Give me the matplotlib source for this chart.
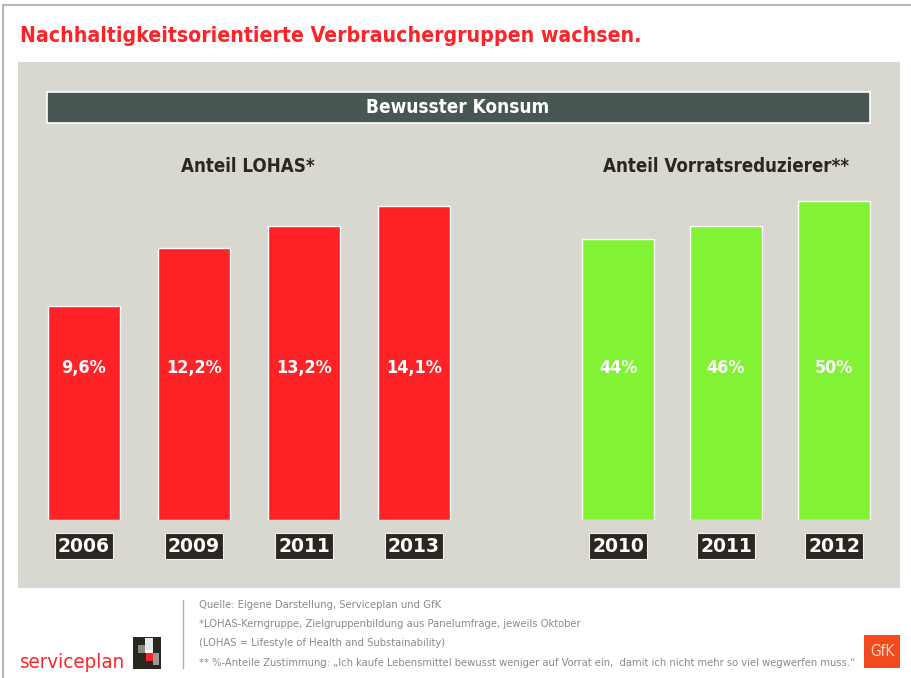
import matplotlib.pyplot as plt
from matplotlib.patches import Rectangle
import numpy as np

# data
lohas_years = ["2006", "2009", "2011", "2013"]
lohas_values = [9.6, 12.2, 13.2, 14.1]
lohas_labels = ["9,6%", "12,2%", "13,2%", "14,1%"]

vorrat_years = ["2010", "2011", "2012"]
vorrat_values = [44, 46, 50]
vorrat_labels = ["44%", "46%", "50%"]

title = "Nachhaltigkeitsorientierte Verbrauchergruppen wachsen."
header = "Bewusster Konsum"
sub_left = "Anteil LOHAS*"
sub_right = "Anteil Vorratsreduzierer**"
footnotes = [
    "Quelle: Eigene Darstellung, Serviceplan und GfK",
    "*LOHAS-Kerngruppe, Zielgruppenbildung aus Panelumfrage, jeweils Oktober",
    "(LOHAS = Lifestyle of Health and Substainability)",
    "** %-Anteile Zustimmung: \u201eIch kaufe Lebensmittel bewusst weniger auf Vorrat ein,  damit ich nicht mehr so viel wegwerfen muss.\u201c",
]

RED = "#FF2328"
GREEN = "#82F235"
PANEL = "#D8D8D0"
HEADER = "#485753"
DARK = "#2A2620"
FONT = dict(family="DejaVu Sans", fontstretch="condensed")

W, H = 912, 678
fig = plt.figure(figsize=(W / 100, H / 100), dpi=100)
fig.patch.set_facecolor("white")
renderer = fig.canvas.get_renderer()


def fit(texts, width):
    # shrink a group of texts so the widest one spans `width` pixels
    widest = max(t.get_window_extent(renderer).width for t in texts)
    for t in texts:
        t.set_fontsize(t.get_fontsize() * width / widest)


# background / decoration layer in pixel coordinates
bg = fig.add_axes([0, 0, 1, 1], zorder=0)
bg.set_xlim(0, W)
bg.set_ylim(H, 0)
bg.axis("off")

bg.plot([3, W], [5, 5], color="#B8B8B0", lw=1.5)
bg.plot([3, 3], [5, H], color="#B8B8B0", lw=1.5)

t = bg.text(20, 36, title, color=RED, fontsize=18, fontweight="bold",
            va="center", ha="left", **FONT)
fit([t], 620)

bg.add_patch(Rectangle((18, 62), 882, 526, color=PANEL, lw=0))
bg.add_patch(Rectangle((47, 92), 823, 31, facecolor=HEADER, edgecolor="white", lw=1.2))
t = bg.text(458, 107.5, header, color="white", fontsize=15, fontweight="bold",
            ha="center", va="center", **FONT)
fit([t], 184)

t1 = bg.text(248, 167, sub_left, color=DARK, fontsize=15, fontweight="bold",
             ha="center", va="center", **FONT)
t2 = bg.text(726, 167, sub_right, color=DARK, fontsize=15, fontweight="bold",
             ha="center", va="center", **FONT)
fit([t2], 248)
t1.set_fontsize(t2.get_fontsize())

# footer
bg.plot([183, 183], [600, 668], color="#B0B0B0", lw=1)
notes = [bg.text(199, 605 + i * 19.2, line, color="#8A8A88", fontsize=9,
                 ha="left", va="center", **FONT)
         for i, line in enumerate(footnotes)]
fit(notes, 658)

t = bg.text(19, 662, "serviceplan", color=RED, fontsize=16,
            ha="left", va="center", **FONT)
fit([t], 106)

# serviceplan logo
bg.add_patch(Rectangle((133, 637), 28, 32, color=DARK, lw=0))
bg.add_patch(Rectangle((138, 645), 7, 8, color="#8A8A80", lw=0))
bg.add_patch(Rectangle((145, 638), 8, 12, color="#E8E8E4", lw=0))
bg.add_patch(Rectangle((145, 650), 8, 3, color="white", lw=0))
bg.add_patch(Rectangle((146, 653), 7, 8, color=RED, lw=0))
bg.add_patch(Rectangle((153, 653), 6, 12, color="#9A9A94", lw=0))

# GfK logo
bg.add_patch(Rectangle((864, 635), 36, 33, color="#F24A1E", lw=0))
bg.text(882, 652, "GfK", color="#F8D8C0", fontsize=11,
        ha="center", va="center", **FONT)

value_texts = []


def bar_axes(x0, x1, n, values, ymax, years, labels, color):
    top, bottom = 190, 520
    ax = fig.add_axes([x0 / W, 1 - bottom / H, (x1 - x0) / W, (bottom - top) / H], zorder=2)
    ax.patch.set_alpha(0)
    x = np.arange(n)
    ax.bar(x, values, width=0.66, color=color, edgecolor="white", linewidth=1)
    ax.set_xlim(-0.5, n - 0.5)
    ax.set_ylim(0, ymax)
    for s in ax.spines.values():
        s.set_visible(False)
    ax.set_yticks([])
    ax.set_xticks(x, labels=years)
    ax.tick_params(axis="x", length=0, pad=12, labelsize=13.5, labelcolor="white")
    for lbl in ax.get_xticklabels():
        lbl.set_fontweight("bold")
        lbl.set_bbox(dict(boxstyle="square,pad=0.18", facecolor=DARK,
                          edgecolor="#F0F0F0", linewidth=0.8))
    for xi, s in zip(x, labels):
        value_texts.append(ax.text(xi, 0.46, s, transform=ax.get_xaxis_transform(),
                                   color="white", fontsize=16, fontweight="bold",
                                   ha="center", va="center", **FONT))
    return ax


bar_axes(29, 469, len(lohas_values), lohas_values, 330 / 22.3,
         lohas_years, lohas_labels, RED)
bar_axes(564, 888, len(vorrat_values), vorrat_values, 330 / 6.39,
         vorrat_years, vorrat_labels, GREEN)
fit(value_texts, 56)

fig.savefig("out.png", dpi=100)
